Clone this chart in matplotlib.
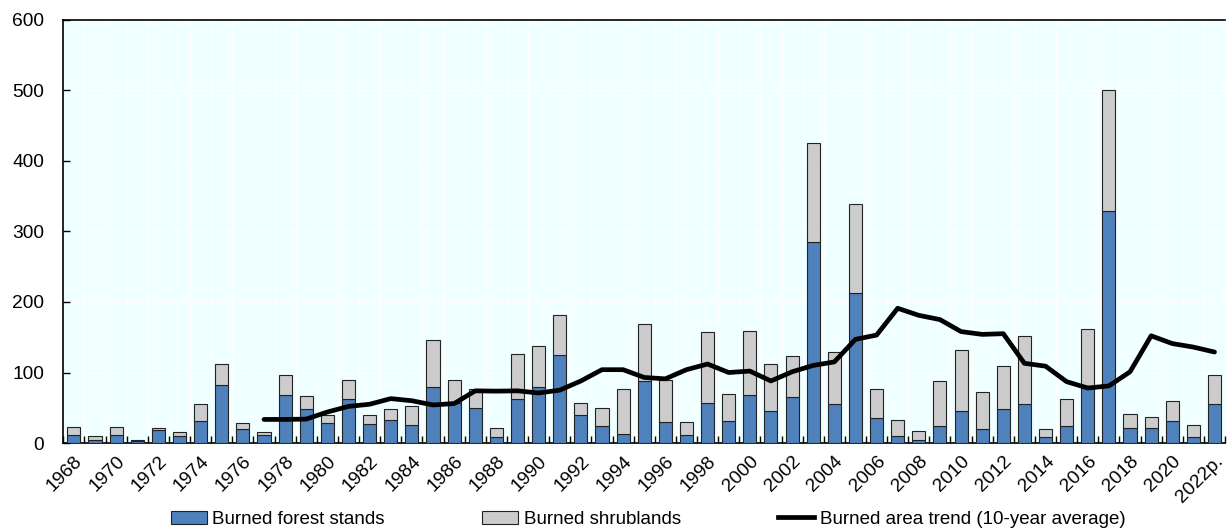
import matplotlib
matplotlib.use("Agg")
import matplotlib.pyplot as plt
import numpy as np
from matplotlib.patches import Patch
from matplotlib.lines import Line2D

plt.rcParams['font.family'] = ['Liberation Sans', 'DejaVu Sans']

years = [str(y) for y in range(1968, 2022)] + ["2022p."]

forest = [11, 5, 11, 3, 19, 10, 31, 82, 20, 12,
          68, 48, 29, 63, 27, 32, 26, 79, 57, 50,
          8, 62, 79, 125, 40, 24, 13, 88, 30, 11,
          57, 31, 68, 45, 65, 285, 56, 213, 36, 10,
          5, 24, 46, 20, 48, 55, 9, 24, 79, 329,
          22, 21, 31, 8, 55]

shrub = [12, 5, 12, 1, 3, 5, 24, 30, 8, 4,
         29, 18, 11, 26, 13, 16, 26, 67, 32, 26,
         14, 64, 58, 57, 17, 26, 64, 81, 59, 19,
         101, 39, 91, 67, 59, 140, 73, 126, 40, 23,
         12.5, 64, 86, 52, 61, 97, 11, 39, 82, 171,
         19, 16, 29, 17, 42]

trend_start = "1977"
trend = [33.5, 33.5, 34, 44, 52, 55, 63, 60, 54, 56,
         74, 73.6, 74, 71, 75, 88, 104, 104, 93, 91,
         104, 112, 100, 102, 88, 101, 110, 115, 147, 153,
         191, 181, 175, 158, 154, 155, 113, 109, 87, 78,
         81, 101, 152, 141, 136, 129]

blue = '#4F81BD'
grey = '#CCCCCC'
bg = '#F0FFFF'

fig = plt.figure(figsize=(12.3, 5.3), dpi=100)
ax = fig.add_axes([0.0515, 0.164, 0.9445, 0.799])
ax.set_facecolor(bg)

x = np.arange(len(years))
w = 0.62
ax.bar(x, forest, width=w, color=blue, edgecolor='#222222', linewidth=0.8, zorder=3)
ax.bar(x, shrub, width=w, bottom=forest, color=grey, edgecolor='#222222', linewidth=0.8, zorder=3)

i0 = years.index(trend_start)
tx = x[i0:i0 + len(trend)]
ax.plot(tx, trend, color='black', linewidth=3.4, zorder=4, solid_capstyle='round')

ax.set_xlim(-0.5, len(years) - 0.5)
ax.set_ylim(0, 600)
ax.set_yticks(np.arange(0, 601, 100))
ax.set_xticks(x[::2])
ax.set_xticklabels(years[::2], rotation=45, ha='right', rotation_mode='anchor')
ax.set_xticks(np.arange(-0.5, len(years), 1), minor=True)

ax.tick_params(axis='x', which='major', length=0, pad=7, labelsize=13.8)
ax.tick_params(axis='x', which='minor', direction='in', length=5, width=1)
ax.tick_params(axis='y', which='major', direction='in', length=5, width=1, labelsize=13.8, pad=14)

for xv in np.arange(-0.5, len(years), 1):
    ax.axvline(xv, color='white', linewidth=0.8, zorder=1)
for yv in range(100, 600, 100):
    ax.axhline(yv, color='white', linewidth=0.8, zorder=1)

for s in ['left', 'bottom', 'top']:
    ax.spines[s].set_linewidth(1.2)
    ax.spines[s].set_color('black')
ax.spines['right'].set_visible(False)

handles = [Patch(facecolor=blue, edgecolor='#222222', linewidth=0.8),
           Patch(facecolor=grey, edgecolor='#222222', linewidth=0.8),
           Line2D([0], [0], color='black', linewidth=3.4)]
labels = ["Burned forest stands", "Burned shrublands", "Burned area trend (10-year average)"]
fig.legend(handles, labels, loc='lower center', bbox_to_anchor=(0.527, -0.028), ncol=3,
           frameon=False, fontsize=13.5, handlelength=1.9, handleheight=0.7,
           handletextpad=0.3, columnspacing=5.2)

fig.savefig('out.png', dpi=100)
